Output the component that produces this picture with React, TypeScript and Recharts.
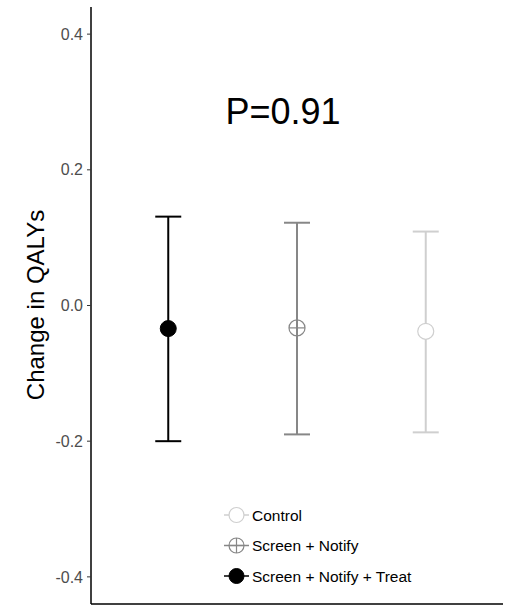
import React from 'react';
import { ScatterChart, Scatter, XAxis, YAxis, ErrorBar } from 'recharts';

// ---- data ----
const categories = ['Screen + Notify + Treat', 'Screen + Notify', 'Control'];
const xPositions = [1, 2, 3];
const means = [-0.034, -0.033, -0.038];
const lowers = [-0.2, -0.19, -0.187];
const uppers = [0.131, 0.122, 0.109];
const yTicks = [-0.4, -0.2, 0, 0.2, 0.4];
const legendOrder = ['Control', 'Screen + Notify', 'Screen + Notify + Treat'];
const pLabel = 'P=0.91';
const yLabel = 'Change in QALYs';

// ---- styles ----
const colorOf: Record<string, string> = {
  'Screen + Notify + Treat': '#000000',
  'Screen + Notify': '#878787',
  Control: '#cfcfcf',
};
const kindOf: Record<string, string> = {
  'Screen + Notify + Treat': 'filled',
  'Screen + Notify': 'plus',
  Control: 'open',
};
const FONT = "'Liberation Sans', Arial, sans-serif";

const Marker = ({ cx, cy, kind, color, r }: any) => {
  if (cx == null || cy == null) return null;
  if (kind === 'filled') return <circle cx={cx} cy={cy} r={r} fill={color} stroke={color} />;
  if (kind === 'plus')
    return (
      <g>
        <circle cx={cx} cy={cy} r={r} fill="none" stroke={color} strokeWidth={1.2} />
        <line x1={cx - r} y1={cy} x2={cx + r} y2={cy} stroke={color} strokeWidth={1.2} />
        <line x1={cx} y1={cy - r} x2={cx} y2={cy + r} stroke={color} strokeWidth={1.2} />
      </g>
    );
  return <circle cx={cx} cy={cy} r={r} fill="#fff" stroke={color} strokeWidth={1.2} />;
};

const series = categories.map((c, i) => ({
  name: c,
  data: [{ x: xPositions[i], y: means[i], err: [means[i] - lowers[i], uppers[i] - means[i]] }],
}));

export default function App() {
  return (
    <div style={{ position: 'absolute', left: 0, top: 0, width: 512, height: 607, background: '#fff' }}>
      <ScatterChart width={512} height={607} margin={{ top: 7, right: 9, bottom: 2, left: 0 }}>
        <XAxis
          type="number"
          dataKey="x"
          domain={[0.4, 3.6]}
          ticks={[1, 2, 3]}
          tick={false}
          tickLine={false}
          height={1}
          axisLine={{ stroke: '#000', strokeWidth: 1.5 }}
        />
        <YAxis
          type="number"
          dataKey="y"
          domain={[-0.44, 0.44]}
          ticks={yTicks}
          width={91}
          tickSize={4}
          tickMargin={4}
          interval={0}
          tickFormatter={(v: number) => v.toFixed(1)}
          tick={{ fill: '#4d4d4d', fontSize: 16, fontFamily: FONT }}
          tickLine={{ stroke: '#333', strokeWidth: 1 }}
          axisLine={{ stroke: '#000', strokeWidth: 1.5 }}
        />
        {series.map((s) => (
          <Scatter
            key={s.name}
            name={s.name}
            data={s.data}
            isAnimationActive={false}
            shape={(p: any) => <Marker cx={p.cx} cy={p.cy} kind={kindOf[s.name]} color={colorOf[s.name]} r={8} />}
          >
            <ErrorBar
              dataKey="err"
              direction="y"
              width={13}
              stroke={colorOf[s.name]}
              strokeWidth={2}
              isAnimationActive={false}
            />
          </Scatter>
        ))}
      </ScatterChart>
      <svg
        width={512}
        height={607}
        style={{ position: 'absolute', left: 0, top: 0, pointerEvents: 'none' }}
      >
        <text
          x={35}
          y={305}
          transform="rotate(-90 35 305)"
          textAnchor="middle"
          dominantBaseline="central"
          fontSize={24}
          fontFamily={FONT}
          fill="#000"
        >
          {yLabel}
        </text>
        <text x={283} y={124} textAnchor="middle" fontSize={36} fontFamily={FONT} fill="#000">
          {pLabel}
        </text>
        {legendOrder.map((name, i) => {
          const cy = 515 + i * 30.5;
          const color = colorOf[name];
          return (
            <g key={name}>
              <line x1={224} y1={cy} x2={249} y2={cy} stroke={color} strokeWidth={1.5} />
              <Marker cx={236.5} cy={cy} kind={kindOf[name]} color={color} r={7.5} />
              <text x={252} y={cy} dominantBaseline="central" fontSize={15.5} fontFamily={FONT} fill="#000">
                {name}
              </text>
            </g>
          );
        })}
      </svg>
    </div>
  );
}
